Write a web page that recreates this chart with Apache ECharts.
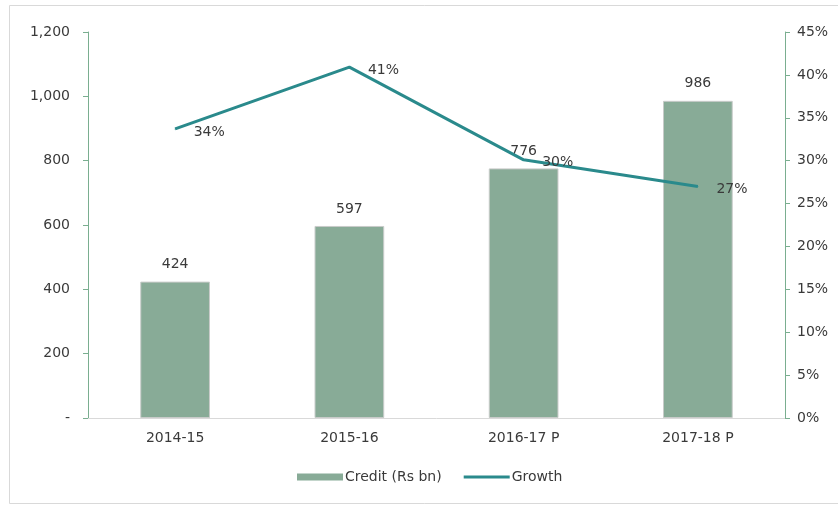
<!DOCTYPE html>
<html>
<head>
<meta charset="utf-8">
<script src="https://cdn.jsdelivr.net/npm/echarts@6/dist/echarts.min.js"></script>
<style>
  html, body { margin: 0; padding: 0; background: #fff; }
  #chart { width: 838px; height: 506px; }
</style>
</head>
<body>
<div id="chart"></div>
<script>
// data
var years = ['2014-15', '2015-16', '2016-17 P', '2017-18 P'];
var credit = [424, 597, 776, 986];
var growth = [33.7, 40.9, 30.1, 27.0]; // %

var chart = echarts.init(document.getElementById('chart'));

var txt = '#3a3a3a';
var font = 'DejaVu Sans, sans-serif';
var fs = 14;

var option = {
  backgroundColor: '#ffffff',
  textStyle: { fontFamily: font },
  animation: false,
  graphic: [{
    type: 'rect',
    shape: { x: 9.5, y: 5.5, width: 840, height: 498 },
    style: { fill: 'none', stroke: '#d9d9d9', lineWidth: 1 },
    silent: true
  }],
  grid: { left: 88, right: 53, top: 32, bottom: 88 },
  legend: {
    top: 465,
    left: 292,
    itemWidth: 46,
    itemHeight: 7,
    itemGap: 22,
    textStyle: { color: txt, fontSize: fs, fontFamily: font, padding: [0, 0, 0, -3] },
    data: [
      { name: 'Credit (Rs bn)', icon: 'rect', itemStyle: { borderWidth: 0 } },
      { name: 'Growth', icon: 'path://M0 0H46V3H0Z' }
    ]
  },
  xAxis: {
    type: 'category',
    data: years,
    axisLine: { lineStyle: { color: '#d9d9d9', width: 1 } },
    axisTick: { show: false },
    axisLabel: { color: txt, fontSize: fs, margin: 13 }
  },
  yAxis: [{
    type: 'value',
    min: 0,
    max: 1200,
    interval: 200,
    splitLine: { show: false },
    axisLine: { show: true, lineStyle: { color: '#7aae90' } },
    axisTick: { show: true, length: 5, lineStyle: { color: '#7aae90' } },
    axisLabel: {
      color: txt, fontSize: fs, margin: 18,
      formatter: function (v) {
        if (v === 0) return '-';
        return v.toLocaleString('en-US');
      }
    }
  }, {
    type: 'value',
    min: 0,
    max: 45,
    interval: 5,
    splitLine: { show: false },
    axisLine: { show: true, lineStyle: { color: '#7aae90' } },
    axisTick: { show: true, length: 5, lineStyle: { color: '#7aae90' } },
    axisLabel: { color: txt, fontSize: fs, margin: 12, formatter: '{value}%' }
  }],
  series: [{
    name: 'Credit (Rs bn)',
    type: 'bar',
    data: credit,
    barWidth: '40%',
    itemStyle: { color: '#88ab97', borderColor: '#c8cbc9', borderWidth: 1 },
    label: { show: true, position: 'top', distance: 10, color: txt, fontSize: fs }
  }, {
    name: 'Growth',
    type: 'line',
    yAxisIndex: 1,
    data: growth,
    symbol: 'circle',
    symbolSize: 1,
    lineStyle: { color: '#2a8a8c', width: 3 },
    itemStyle: { color: '#2a8a8c' },
    label: {
      show: true,
      position: 'right',
      distance: 18,
      offset: [0, 3],
      color: txt,
      fontSize: fs,
      formatter: function (p) { return Math.round(p.value) + '%'; }
    }
  }]
};

chart.setOption(option);
</script>
</body>
</html>
